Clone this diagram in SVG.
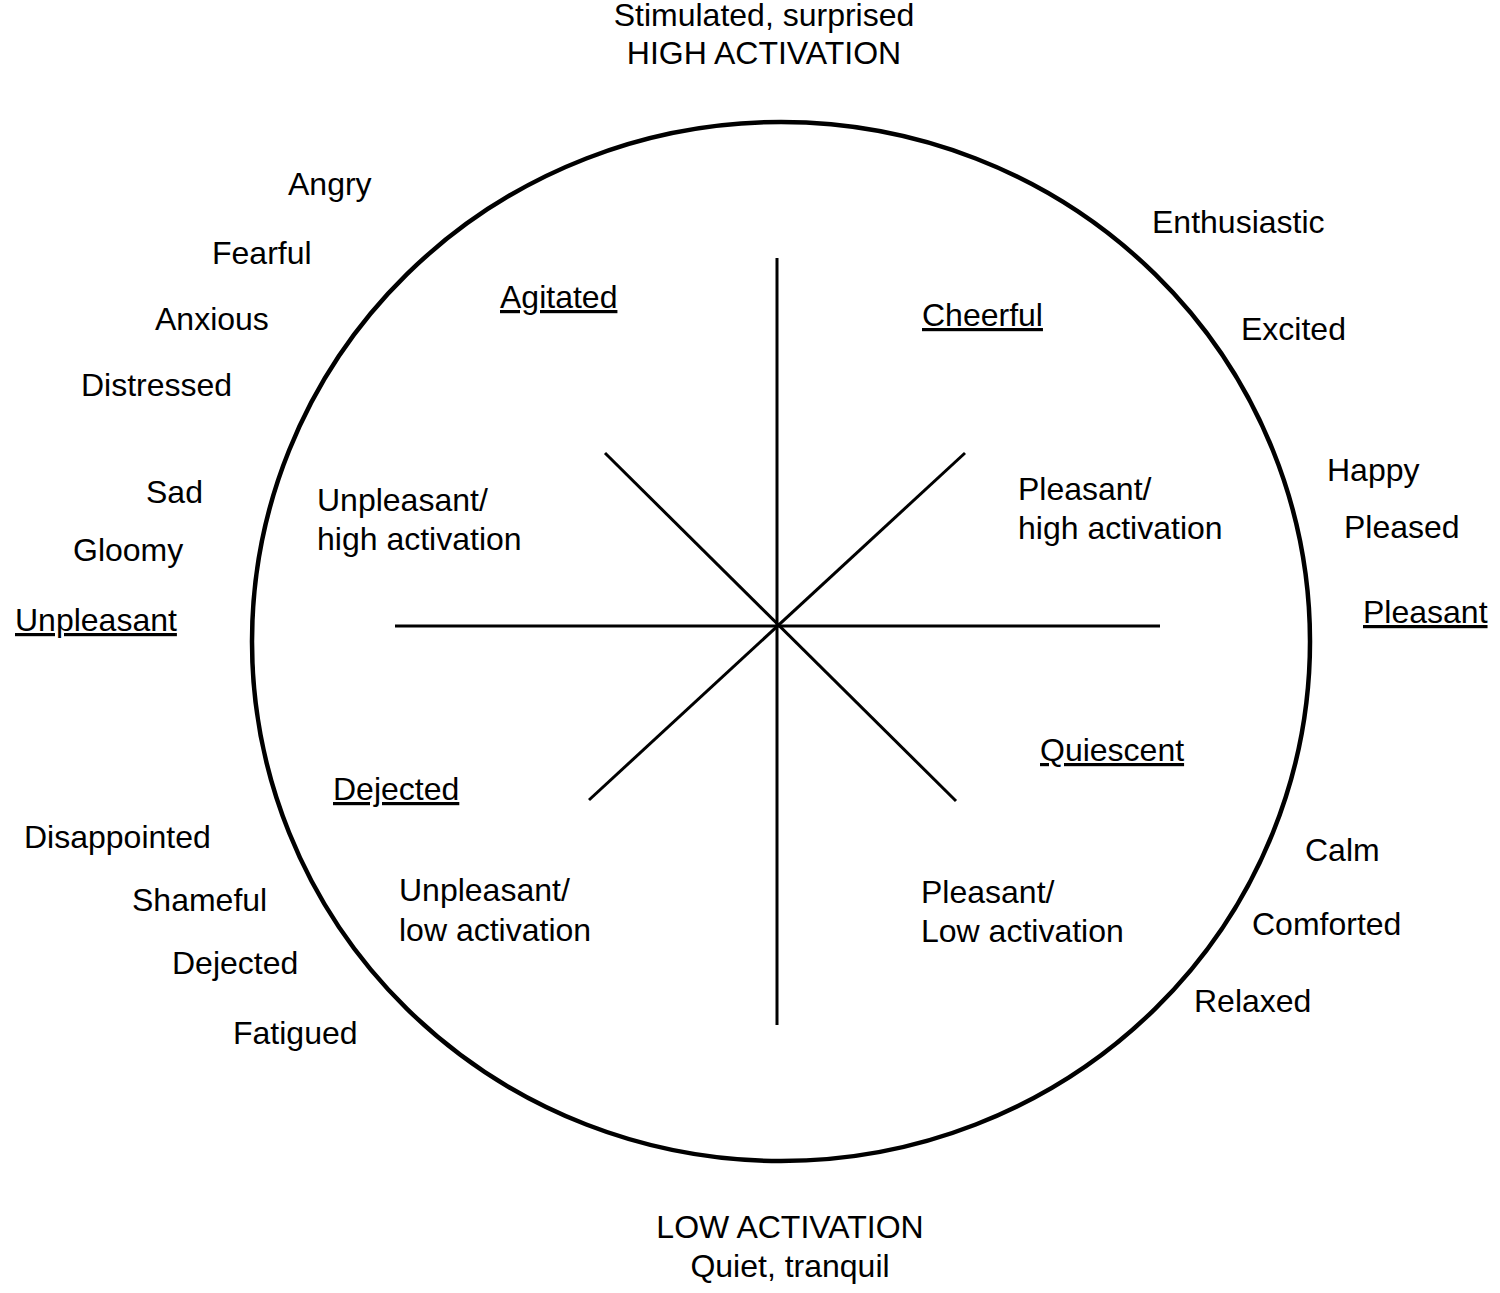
<svg xmlns="http://www.w3.org/2000/svg" width="1500" height="1293" viewBox="0 0 1500 1293">
<style>
text{font-family:"Liberation Sans",Arial,sans-serif;font-size:32px;fill:#000}
.u{text-decoration:underline}
.c{text-anchor:middle}
.ln{stroke:#000;stroke-width:3;fill:none}
</style>
<rect width="1500" height="1293" fill="#fff"/>
<g id="circle"><ellipse cx="781" cy="641.5" rx="529" ry="519.5" fill="none" stroke="#000" stroke-width="4.5"/></g>
<g id="connectors">
<line class="ln" x1="777" y1="258" x2="777" y2="1025"/>
<line class="ln" x1="395" y1="626" x2="1160" y2="626"/>
<line class="ln" x1="605" y1="453" x2="956" y2="801"/>
<line class="ln" x1="965" y1="453" x2="589" y2="800"/>
</g>
<g id="top"><text class="c" x="764" y="26">Stimulated, surprised</text><text class="c" x="764" y="64">HIGH ACTIVATION</text></g>
<g id="bottom"><text class="c" x="790" y="1238">LOW ACTIVATION</text><text class="c" x="790" y="1277">Quiet, tranquil</text></g>
<g id="angry"><text x="288" y="195">Angry</text></g>
<g id="fearful"><text x="212" y="264">Fearful</text></g>
<g id="anxious"><text x="155" y="330">Anxious</text></g>
<g id="distressed"><text x="81" y="396">Distressed</text></g>
<g id="sad"><text x="146" y="503">Sad</text></g>
<g id="gloomy"><text x="73" y="561">Gloomy</text></g>
<g id="unpleasant"><text class="u" x="15" y="631">Unpleasant</text></g>
<g id="agitated"><text class="u" x="500" y="308">Agitated</text></g>
<g id="cheerful"><text class="u" x="922" y="326">Cheerful</text></g>
<g id="enthusiastic"><text x="1152" y="233">Enthusiastic</text></g>
<g id="excited"><text x="1241" y="340">Excited</text></g>
<g id="happy"><text x="1327" y="481">Happy</text></g>
<g id="pleased"><text x="1344" y="538">Pleased</text></g>
<g id="pleasant"><text class="u" x="1363" y="623">Pleasant</text></g>
<g id="unpleasant-high"><text x="317" y="511">Unpleasant/</text><text x="317" y="550">high activation</text></g>
<g id="pleasant-high"><text x="1018" y="500">Pleasant/</text><text x="1018" y="539">high activation</text></g>
<g id="quiescent"><text class="u" x="1040" y="761">Quiescent</text></g>
<g id="dejected-u"><text class="u" x="333" y="800">Dejected</text></g>
<g id="disappointed"><text x="24" y="848">Disappointed</text></g>
<g id="shameful"><text x="132" y="911">Shameful</text></g>
<g id="dejected"><text x="172" y="974">Dejected</text></g>
<g id="fatigued"><text x="233" y="1044">Fatigued</text></g>
<g id="unpleasant-low"><text x="399" y="901">Unpleasant/</text><text x="399" y="941">low activation</text></g>
<g id="pleasant-low"><text x="921" y="903">Pleasant/</text><text x="921" y="942">Low activation</text></g>
<g id="calm"><text x="1305" y="861">Calm</text></g>
<g id="comforted"><text x="1252" y="935">Comforted</text></g>
<g id="relaxed"><text x="1194" y="1012">Relaxed</text></g>
</svg>
